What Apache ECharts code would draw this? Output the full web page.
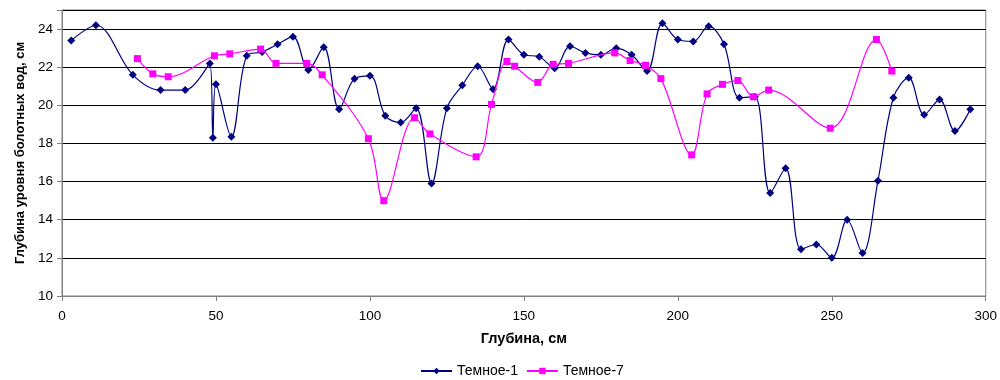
<!DOCTYPE html>
<html>
<head>
<meta charset="utf-8">
<script src="https://cdn.jsdelivr.net/npm/echarts@6/dist/echarts.min.js"></script>
<style>
  html, body { margin: 0; padding: 0; background: #fff; }
  #chart { width: 1000px; height: 380px; }
</style>
</head>
<body>
<div id="chart"></div>
<script>
// Depth of bog water level along the profile, two transects
const depthT1 = [3, 11, 23, 32, 40, 48, 49, 50, 55, 60, 65, 70, 75, 80, 85, 90, 95, 100, 105, 110,
  115, 120, 125, 130, 135, 140, 145, 150, 155, 160, 165, 170, 175, 180, 185, 190, 195, 200, 205, 210,
  215, 220, 225, 230, 235, 240, 245, 250, 255, 260, 265, 270, 275, 280, 285, 290, 295];
const levelT1 = [23.4, 24.2, 21.6, 20.8, 20.8, 22.2, 18.3, 21.1, 18.35, 22.6, 22.8, 23.2, 23.6, 21.85, 23.05, 19.8, 21.4, 21.55, 19.45, 19.1,
  19.85, 15.9, 19.85, 21.05, 22.05, 20.85, 23.45, 22.65, 22.55, 21.95, 23.1, 22.75, 22.65, 23.0, 22.65, 21.8, 24.3, 23.45, 23.35, 24.15,
  23.2, 20.4, 20.45, 15.4, 16.7, 12.45, 12.7, 12.0, 14.0, 12.25, 16.05, 20.4, 21.45, 19.5, 20.3, 18.65, 19.8];

const depthT7 = [24.5, 29.5, 34.5, 49.5, 54.5, 64.5, 69.5, 79.5, 84.5, 99.5, 104.5, 114.5, 119.5, 134.5, 139.5, 144.5, 147, 154.5,
  159.5, 164.5, 179.5, 184.5, 189.5, 194.5, 204.5, 209.5, 214.5, 219.5, 224.5, 229.5, 249.5, 264.5, 269.5];
const levelT7 = [22.45, 21.65, 21.5, 22.6, 22.7, 22.95, 22.2, 22.2, 21.6, 18.25, 15.0, 19.35, 18.5, 17.3, 20.05, 22.3, 22.05, 21.2,
  22.15, 22.2, 22.75, 22.35, 22.1, 21.4, 17.4, 20.6, 21.1, 21.3, 20.45, 20.8, 18.8, 23.45, 21.8];

const seriesNames = ['Темное-1', 'Темное-7'];
const xTitle = 'Глубина, см';
const yTitle = 'Глубина уровня болотных вод, см';

const pairs = (xs, ys) => xs.map((x, i) => [x, ys[i]]);

const font = 'Liberation Sans, Arial, sans-serif';
const chart = echarts.init(document.getElementById('chart'), null, { renderer: 'canvas' });

chart.setOption({
  animation: false,
  backgroundColor: '#ffffff',
  textStyle: { fontFamily: font },
  grid: {
    left: 62, right: 13, top: 10, bottom: 84,
    show: true, borderColor: '#808080', borderWidth: 1, backgroundColor: 'transparent'
  },
  legend: {
    top: 359,
    left: 415,
    padding: 5,
    itemWidth: 31,
    itemHeight: 8,
    itemGap: 8,
    textStyle: { fontFamily: font, fontSize: 14, color: '#000' },
    data: seriesNames
  },
  xAxis: {
    type: 'value',
    min: 0, max: 300, interval: 50,
    name: xTitle,
    nameLocation: 'middle',
    nameGap: 35,
    nameTextStyle: { fontFamily: font, fontSize: 14.5, fontWeight: 'bold', color: '#000' },
    axisLine: { show: true, lineStyle: { color: '#808080', width: 1 } },
    axisTick: { show: true, length: 5, lineStyle: { color: '#808080' } },
    axisLabel: { fontFamily: font, fontSize: 13.5, color: '#000', margin: 13 },
    splitLine: { show: false }
  },
  yAxis: {
    type: 'value',
    min: 10, max: 25, interval: 2,
    name: yTitle,
    nameLocation: 'middle',
    nameGap: 35,
    nameTextStyle: { fontFamily: font, fontSize: 13, fontWeight: 'bold', color: '#000' },
    axisLine: { show: true, lineStyle: { color: '#808080', width: 1 } },
    axisTick: { show: true, length: 5, lineStyle: { color: '#808080' } },
    axisLabel: {
      fontFamily: font, fontSize: 13.5, color: '#000', margin: 9,
      formatter: v => (v === 25 ? '' : String(v))
    },
    splitLine: { show: true, lineStyle: { color: '#000', width: 1 } }
  },
  series: [
    {
      name: seriesNames[0],
      type: 'line',
      data: pairs(depthT1, levelT1),
      smooth: 0.35,
      symbol: 'diamond',
      symbolSize: 8,
      lineStyle: { color: '#000080', width: 1.2 },
      itemStyle: { color: '#000080' },
      z: 3
    },
    {
      name: seriesNames[1],
      type: 'line',
      data: pairs(depthT7, levelT7),
      smooth: 0.35,
      symbol: 'rect',
      symbolSize: 7,
      lineStyle: { color: '#FF00FF', width: 1.2 },
      itemStyle: { color: '#FF00FF' },
      z: 4
    }
  ]
});
</script>
</body>
</html>
